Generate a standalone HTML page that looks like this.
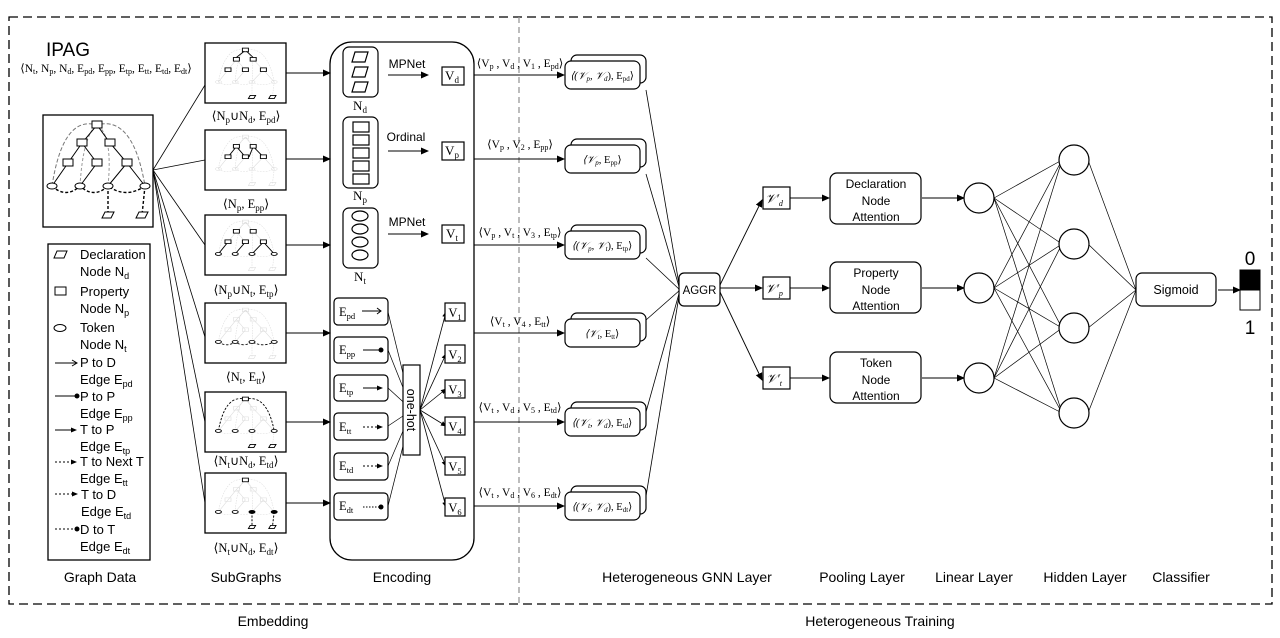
<!DOCTYPE html>
<html><head><meta charset="utf-8"><style>
html,body{margin:0;padding:0;background:#fff}
svg{display:block}
text{font-family:"Liberation Serif",serif;fill:#000}
.s{font-family:"Liberation Sans","DejaVu Sans",sans-serif}
</style></head><body>
<svg width="1280" height="638" viewBox="0 0 1280 638" xmlns="http://www.w3.org/2000/svg">
<defs>
<marker id="a" markerWidth="8" markerHeight="8" refX="7" refY="4" orient="auto" markerUnits="userSpaceOnUse"><path d="M0,0.5 L8,4 L0,7.5z" fill="#000"/></marker>
<marker id="as" markerWidth="6" markerHeight="6" refX="5" refY="3" orient="auto" markerUnits="userSpaceOnUse"><path d="M0,0.5 L6,3 L0,5.5z" fill="#000"/></marker>
<g id="faint" stroke="#ddd" fill="none" stroke-width="1">
<path d="M9,71 Q20,0 54,10 Q90,0 102,71" stroke-dasharray="3,2"/>
<path d="M37,71 Q40,20 54,10 M65,71 Q70,20 54,10" stroke-dasharray="3,2"/>
<path d="M54,10 L39,28 L25,48 L9,71 M39,28 L54,48 L37,71 M54,10 L67,28 L84,48 L65,71 M84,48 L102,71"/>
<path d="M9,71 Q23,82 37,71 Q51,82 65,71 Q83,82 102,71" stroke-dasharray="3,2"/>
<path d="M65,71 L65,100 M102,71 L99,100" stroke-dasharray="3,2"/>
<rect x="49" y="6" width="10" height="7"/><rect x="34" y="24" width="10" height="7"/><rect x="62" y="24" width="10" height="7"/>
<rect x="20" y="44" width="10" height="7"/><rect x="49" y="44" width="10" height="7"/><rect x="79" y="44" width="10" height="7"/>
<ellipse cx="9" cy="71" rx="5" ry="3"/><ellipse cx="37" cy="71" rx="5" ry="3"/><ellipse cx="65" cy="71" rx="5" ry="3"/><ellipse cx="102" cy="71" rx="5" ry="3"/>
<path d="M62,97 h9 l-3,6 h-9z M96,97 h9 l-3,6 h-9z"/>
</g>
</defs>

<rect x="9" y="17" width="1263" height="587" fill="none" stroke="#000" stroke-width="1.3" stroke-dasharray="9,5"/>
<line x1="519" y1="17" x2="519" y2="604" stroke="#999" stroke-width="1.3" stroke-dasharray="6,4"/>
<text x="273" y="626" class="s" font-size="14" text-anchor="middle">Embedding</text>
<text x="880" y="626" class="s" font-size="14" text-anchor="middle">Heterogeneous Training</text>

<text x="68" y="56" class="s" font-size="19" text-anchor="middle">IPAG</text>
<text x="106" y="72" font-size="11.5" text-anchor="middle">⟨N<tspan font-size="8" dy="2">t</tspan><tspan dy="-2">, N</tspan><tspan font-size="8" dy="2">p</tspan><tspan dy="-2">, N</tspan><tspan font-size="8" dy="2">d</tspan><tspan dy="-2">, E</tspan><tspan font-size="8" dy="2">pd</tspan><tspan dy="-2">, E</tspan><tspan font-size="8" dy="2">pp</tspan><tspan dy="-2">, E</tspan><tspan font-size="8" dy="2">tp</tspan><tspan dy="-2">, E</tspan><tspan font-size="8" dy="2">tt</tspan><tspan dy="-2">, E</tspan><tspan font-size="8" dy="2">td</tspan><tspan dy="-2">, E</tspan><tspan font-size="8" dy="2">dt</tspan><tspan dy="-2">⟩</tspan></text>
<rect x="43" y="115" width="110" height="112" fill="#fff" stroke="#000" stroke-width="1.3"/>
<g transform="translate(43,115)" fill="#fff" stroke="#000" stroke-width="1">
<path d="M9,71 Q20,0 54,10 Q90,0 102,71" fill="none" stroke="#777" stroke-dasharray="4,2"/>
<path d="M37,71 Q40,20 54,10 M65,71 Q70,20 54,10" fill="none" stroke="#999" stroke-dasharray="3,2"/>
<path d="M54,10 L39,28 L25,48 L9,71 M39,28 L54,48 L37,71 M54,10 L67,28 L84,48 L65,71 M84,48 L102,71" fill="none"/>
<path d="M9,71 Q23,84 37,71 Q51,84 65,71 Q83,84 102,71" fill="none" stroke-dasharray="3,2" stroke-width="1.4"/>
<path d="M65,71 L65,100 M102,71 L99,100" fill="none" stroke-dasharray="3,2" stroke-width="1.4"/>
<rect x="49" y="6" width="10" height="7"/><rect x="34" y="24" width="10" height="7"/><rect x="62" y="24" width="10" height="7"/>
<rect x="20" y="44" width="10" height="7"/><rect x="49" y="44" width="10" height="7"/><rect x="79" y="44" width="10" height="7"/>
<ellipse cx="9" cy="71" rx="5" ry="3"/><ellipse cx="37" cy="71" rx="5" ry="3"/><ellipse cx="65" cy="71" rx="5" ry="3"/><ellipse cx="102" cy="71" rx="5" ry="3"/>
<path d="M62,97 h9 l-3,6 h-9z M96,97 h9 l-3,6 h-9z"/>
</g>

<rect x="48" y="244" width="102" height="316" fill="none" stroke="#000" stroke-width="1.3"/>
<g class="s" font-size="13">
<path d="M57,251 h10 l-3,7 h-10z" fill="none" stroke="#000"/>
<text x="80" y="259" class="s">Declaration</text>
<text x="80" y="276" class="s">Node N<tspan font-size="9" dy="3">d</tspan></text>
<rect x="55" y="287" width="11" height="8" fill="none" stroke="#000"/>
<text x="80" y="296" class="s">Property</text>
<text x="80" y="313" class="s">Node N<tspan font-size="9" dy="3">p</tspan></text>
<ellipse cx="60" cy="328" rx="6" ry="3.5" fill="none" stroke="#000"/>
<text x="80" y="332" class="s">Token</text>
<text x="80" y="349" class="s">Node N<tspan font-size="9" dy="3">t</tspan></text>
<path d="M55,363 h22 M72,360 l5,3 l-5,3" fill="none" stroke="#000"/>
<text x="80" y="367" class="s">P to D</text>
<text x="80" y="384" class="s">Edge E<tspan font-size="9" dy="3">pd</tspan></text>
<line x1="55" y1="396" x2="76" y2="396" stroke="#000"/><circle cx="77" cy="396" r="2.5"/>
<text x="80" y="401" class="s">P to P</text>
<text x="80" y="418" class="s">Edge E<tspan font-size="9" dy="3">pp</tspan></text>
<line x1="55" y1="430" x2="76" y2="430" stroke="#000" marker-end="url(#as)"/>
<text x="80" y="434" class="s">T to P</text>
<text x="80" y="451" class="s">Edge E<tspan font-size="9" dy="3">tp</tspan></text>
<line x1="55" y1="462" x2="76" y2="462" stroke="#000" stroke-dasharray="2,2" marker-end="url(#as)"/>
<text x="80" y="466" class="s">T to Next T</text>
<text x="80" y="483" class="s">Edge E<tspan font-size="9" dy="3">tt</tspan></text>
<line x1="55" y1="494" x2="77" y2="494" stroke="#000" stroke-dasharray="2,2" marker-end="url(#as)"/>
<text x="81" y="499" class="s">T to D</text>
<text x="81" y="516" class="s">Edge E<tspan font-size="9" dy="3">td</tspan></text>
<line x1="55" y1="529" x2="76" y2="529" stroke="#000" stroke-dasharray="2,2"/><circle cx="77" cy="529" r="2.5"/>
<text x="80" y="534" class="s">D to T</text>
<text x="80" y="551" class="s">Edge E<tspan font-size="9" dy="3">dt</tspan></text>
</g>
<text x="100" y="582" class="s" font-size="14" text-anchor="middle">Graph Data</text>

<g stroke="#000" stroke-width="0.8">
<line x1="153" y1="170" x2="205" y2="85"/>
<line x1="153" y1="170" x2="205" y2="160"/>
<line x1="153" y1="170" x2="205" y2="245"/>
<line x1="153" y1="170" x2="205" y2="337"/>
<line x1="153" y1="170" x2="205" y2="422"/>
<line x1="153" y1="170" x2="205" y2="503"/>
</g>

<g stroke="#000" stroke-width="1.3" fill="#fff">
<rect x="205" y="43" width="81" height="60"/>
<rect x="205" y="130" width="81" height="60"/>
<rect x="205" y="215" width="81" height="60"/>
<rect x="205" y="303" width="81" height="60"/>
<rect x="205" y="392" width="81" height="60"/>
<rect x="205" y="473" width="81" height="60"/>
</g>
<g transform="translate(213,45) scale(0.6,0.52)"><use href="#faint"/>
 <g fill="#fff" stroke="#000" stroke-width="1.6"><rect x="49" y="6" width="10" height="7"/><rect x="34" y="24" width="10" height="7"/><rect x="62" y="24" width="10" height="7"/><rect x="20" y="44" width="10" height="7"/><rect x="49" y="44" width="10" height="7"/><rect x="79" y="44" width="10" height="7"/><path d="M62,97 h9 l-3,6 h-9z M96,97 h9 l-3,6 h-9z"/><path d="M39,24 L52,12 M67,24 L56,12"/></g></g>
<g transform="translate(213,132) scale(0.6,0.52)"><use href="#faint"/>
 <g fill="#fff" stroke="#000" stroke-width="1.6"><path d="M39,28 L25,48 M39,28 L54,48 M67,28 L84,48 M67,28 L60,48" fill="none"/><rect x="34" y="24" width="10" height="7"/><rect x="62" y="24" width="10" height="7"/><rect x="20" y="44" width="10" height="7"/><rect x="49" y="44" width="10" height="7"/><rect x="79" y="44" width="10" height="7"/></g></g>
<g transform="translate(213,217) scale(0.6,0.52)"><use href="#faint"/>
 <g fill="#fff" stroke="#000" stroke-width="1.6"><path d="M9,71 L25,48 M37,71 L54,48 M65,71 L84,48 M102,71 L84,48" fill="none"/><rect x="34" y="24" width="10" height="7"/><rect x="62" y="24" width="10" height="7"/><rect x="20" y="44" width="10" height="7"/><rect x="49" y="44" width="10" height="7"/><rect x="79" y="44" width="10" height="7"/><ellipse cx="9" cy="71" rx="5" ry="3"/><ellipse cx="37" cy="71" rx="5" ry="3"/><ellipse cx="65" cy="71" rx="5" ry="3"/><ellipse cx="102" cy="71" rx="5" ry="3"/></g></g>
<g transform="translate(213,305) scale(0.6,0.52)"><use href="#faint"/>
 <g fill="#fff" stroke="#000" stroke-width="1.6"><path d="M9,71 Q23,82 37,71 Q51,82 65,71 Q83,82 102,71" fill="none" stroke-dasharray="4,3"/><ellipse cx="9" cy="71" rx="5" ry="3"/><ellipse cx="37" cy="71" rx="5" ry="3"/><ellipse cx="65" cy="71" rx="5" ry="3"/><ellipse cx="102" cy="71" rx="5" ry="3"/></g></g>
<g transform="translate(213,394) scale(0.6,0.52)"><use href="#faint"/>
 <g fill="#fff" stroke="#000" stroke-width="1.6"><path d="M9,71 Q20,0 54,10 Q90,0 102,71" fill="none" stroke-dasharray="4,3"/><rect x="49" y="6" width="10" height="7"/><ellipse cx="9" cy="71" rx="5" ry="3"/><ellipse cx="37" cy="71" rx="5" ry="3"/><ellipse cx="65" cy="71" rx="5" ry="3"/><ellipse cx="102" cy="71" rx="5" ry="3"/><path d="M62,97 h9 l-3,6 h-9z M96,97 h9 l-3,6 h-9z"/></g></g>
<g transform="translate(213,475) scale(0.6,0.52)"><use href="#faint"/>
 <g fill="#fff" stroke="#000" stroke-width="1.6"><path d="M65,71 L65,100 M102,71 L99,100" fill="none" stroke-dasharray="4,3"/><rect x="49" y="6" width="10" height="7"/><ellipse cx="9" cy="71" rx="5" ry="3"/><ellipse cx="37" cy="71" rx="5" ry="3"/><ellipse cx="65" cy="71" rx="5" ry="3" fill="#000"/><ellipse cx="102" cy="71" rx="5" ry="3" fill="#000"/><path d="M62,97 h9 l-3,6 h-9z M96,97 h9 l-3,6 h-9z"/></g></g>

<g font-size="12.5" text-anchor="middle">
<text x="246" y="120">⟨N<tspan font-size="9" dy="3">p</tspan><tspan dy="-3">∪N</tspan><tspan font-size="9" dy="3">d</tspan><tspan dy="-3">, E</tspan><tspan font-size="9" dy="3">pd</tspan><tspan dy="-3">⟩</tspan></text>
<text x="246" y="208">⟨N<tspan font-size="9" dy="3">p</tspan><tspan dy="-3">, E</tspan><tspan font-size="9" dy="3">pp</tspan><tspan dy="-3">⟩</tspan></text>
<text x="246" y="294">⟨N<tspan font-size="9" dy="3">p</tspan><tspan dy="-3">∪N</tspan><tspan font-size="9" dy="3">t</tspan><tspan dy="-3">, E</tspan><tspan font-size="9" dy="3">tp</tspan><tspan dy="-3">⟩</tspan></text>
<text x="246" y="381">⟨N<tspan font-size="9" dy="3">t</tspan><tspan dy="-3">, E</tspan><tspan font-size="9" dy="3">tt</tspan><tspan dy="-3">⟩</tspan></text>
<text x="246" y="465">⟨N<tspan font-size="9" dy="3">t</tspan><tspan dy="-3">∪N</tspan><tspan font-size="9" dy="3">d</tspan><tspan dy="-3">, E</tspan><tspan font-size="9" dy="3">td</tspan><tspan dy="-3">⟩</tspan></text>
<text x="246" y="552">⟨N<tspan font-size="9" dy="3">t</tspan><tspan dy="-3">∪N</tspan><tspan font-size="9" dy="3">d</tspan><tspan dy="-3">, E</tspan><tspan font-size="9" dy="3">dt</tspan><tspan dy="-3">⟩</tspan></text>
</g>
<text x="246" y="582" class="s" font-size="14" text-anchor="middle">SubGraphs</text>

<g stroke="#000" stroke-width="1" marker-end="url(#a)">
<line x1="286" y1="73" x2="330" y2="73"/>
<line x1="286" y1="159" x2="330" y2="159"/>
<line x1="286" y1="245" x2="330" y2="245"/>
<line x1="286" y1="333" x2="330" y2="333"/>
<line x1="286" y1="422" x2="330" y2="422"/>
<line x1="286" y1="503" x2="330" y2="503"/>
</g>

<rect x="330" y="42" width="144" height="518" rx="22" fill="none" stroke="#000" stroke-width="1.3"/>
<g fill="none" stroke="#000" stroke-width="1.2">
<rect x="343" y="47" width="35" height="50" rx="6"/>
<path d="M355,52 h13 l-3,10 h-13z M355,67 h13 l-3,10 h-13z M355,82 h13 l-3,10 h-13z"/>
<rect x="343" y="117" width="35" height="71" rx="6"/>
<rect x="353" y="122" width="16" height="10"/><rect x="353" y="135" width="16" height="10"/><rect x="353" y="148" width="16" height="10"/><rect x="353" y="161" width="16" height="10"/><rect x="353" y="174" width="16" height="10"/>
<rect x="343" y="208" width="35" height="60" rx="6"/>
<ellipse cx="360" cy="216" rx="8" ry="5"/><ellipse cx="360" cy="229" rx="8" ry="5"/><ellipse cx="360" cy="242" rx="8" ry="5"/><ellipse cx="360" cy="255" rx="8" ry="5"/>
</g>
<g font-size="13" text-anchor="middle">
<text x="360" y="110">N<tspan font-size="9" dy="3">d</tspan></text>
<text x="360" y="200">N<tspan font-size="9" dy="3">p</tspan></text>
<text x="360" y="281">N<tspan font-size="9" dy="3">t</tspan></text>
</g>
<g class="s" font-size="12" text-anchor="middle">
<text x="407" y="68" class="s">MPNet</text>
<text x="406" y="141" class="s">Ordinal</text>
<text x="407" y="226" class="s">MPNet</text>
</g>
<g stroke="#000" marker-end="url(#a)">
<line x1="388" y1="75" x2="428" y2="75"/>
<line x1="388" y1="151" x2="428" y2="151"/>
<line x1="388" y1="234" x2="428" y2="234"/>
</g>
<g fill="#fff" stroke="#000" stroke-width="1.2">
<rect x="442" y="67" width="22" height="18"/><rect x="442" y="142" width="22" height="18"/><rect x="442" y="225" width="22" height="18"/>
</g>
<g font-size="13" text-anchor="middle">
<text x="452" y="80">V<tspan font-size="9" dy="3">d</tspan></text>
<text x="452" y="155">V<tspan font-size="9" dy="3">p</tspan></text>
<text x="452" y="238">V<tspan font-size="9" dy="3">t</tspan></text>
</g>

<g stroke="#000" stroke-width="0.7">
<line x1="388" y1="312" x2="412" y2="410"/><line x1="388" y1="350" x2="412" y2="410"/><line x1="388" y1="388" x2="412" y2="410"/>
<line x1="388" y1="426" x2="412" y2="410"/><line x1="388" y1="466" x2="412" y2="410"/><line x1="388" y1="506" x2="412" y2="410"/>
</g>
<g stroke="#000" stroke-width="0.8" marker-end="url(#as)">
<line x1="420" y1="410" x2="446" y2="312"/><line x1="420" y1="410" x2="446" y2="354"/><line x1="420" y1="410" x2="446" y2="389"/>
<line x1="420" y1="410" x2="446" y2="426"/><line x1="420" y1="410" x2="446" y2="466"/><line x1="420" y1="410" x2="446" y2="507"/>
</g>
<g fill="#fff" stroke="#000" stroke-width="1.2">
<rect x="334" y="298" width="54" height="27" rx="4"/>
<rect x="334" y="337" width="54" height="26" rx="4"/>
<rect x="334" y="375" width="54" height="26" rx="4"/>
<rect x="334" y="413" width="54" height="27" rx="4"/>
<rect x="334" y="453" width="54" height="27" rx="4"/>
<rect x="334" y="493" width="54" height="27" rx="4"/>
<rect x="403" y="365" width="17" height="90"/>
<rect x="445" y="303" width="20" height="18"/><rect x="445" y="345" width="20" height="18"/><rect x="445" y="380" width="20" height="18"/>
<rect x="445" y="417" width="20" height="18"/><rect x="445" y="457" width="20" height="18"/><rect x="445" y="498" width="20" height="18"/>
</g>
<text x="0" y="0" class="s" font-size="12.5" text-anchor="middle" transform="translate(407,410) rotate(90)">one-hot</text>
<g font-size="12.5">
<text x="339" y="316">E<tspan font-size="8.5" dy="3">pd</tspan></text>
<text x="339" y="354">E<tspan font-size="8.5" dy="3">pp</tspan></text>
<text x="339" y="392">E<tspan font-size="8.5" dy="3">tp</tspan></text>
<text x="339" y="431">E<tspan font-size="8.5" dy="3">tt</tspan></text>
<text x="339" y="470">E<tspan font-size="8.5" dy="3">td</tspan></text>
<text x="339" y="510">E<tspan font-size="8.5" dy="3">dt</tspan></text>
</g>
<g stroke="#000" fill="none">
<path d="M362,311 h19 M377,308 l4,3 l-4,3"/>
<line x1="363" y1="350" x2="380" y2="350"/>
<line x1="363" y1="388" x2="382" y2="388" marker-end="url(#as)"/>
<line x1="363" y1="427" x2="382" y2="427" stroke-dasharray="2,2" marker-end="url(#as)"/>
<line x1="363" y1="466" x2="382" y2="466" stroke-dasharray="2,2" marker-end="url(#as)"/>
<line x1="363" y1="507" x2="380" y2="507" stroke-dasharray="1.5,1.5"/>
</g>
<circle cx="381" cy="350" r="2.5"/><circle cx="381" cy="507" r="2.5"/>
<g font-size="12.5" text-anchor="middle">
<text x="455" y="317">V<tspan font-size="8.5" dy="3">1</tspan></text>
<text x="455" y="359">V<tspan font-size="8.5" dy="3">2</tspan></text>
<text x="455" y="394">V<tspan font-size="8.5" dy="3">3</tspan></text>
<text x="455" y="431">V<tspan font-size="8.5" dy="3">4</tspan></text>
<text x="455" y="471">V<tspan font-size="8.5" dy="3">5</tspan></text>
<text x="455" y="512">V<tspan font-size="8.5" dy="3">6</tspan></text>
</g>
<text x="402" y="582" class="s" font-size="14" text-anchor="middle">Encoding</text>

<g stroke="#000" stroke-width="1" marker-end="url(#a)">
<line x1="474" y1="75" x2="564" y2="75"/>
<line x1="474" y1="159" x2="564" y2="159"/>
<line x1="474" y1="245" x2="564" y2="245"/>
<line x1="474" y1="333" x2="564" y2="333"/>
<line x1="474" y1="422" x2="564" y2="422"/>
<line x1="474" y1="506" x2="564" y2="506"/>
</g>
<g font-size="11.5" text-anchor="middle">
<text x="520" y="67">⟨V<tspan font-size="8" dy="2">p</tspan><tspan dy="-2"> , V</tspan><tspan font-size="8" dy="2">d</tspan><tspan dy="-2"> , V</tspan><tspan font-size="8" dy="2">1</tspan><tspan dy="-2"> , E</tspan><tspan font-size="8" dy="2">pd</tspan><tspan dy="-2">⟩</tspan></text>
<text x="520" y="148">⟨V<tspan font-size="8" dy="2">p</tspan><tspan dy="-2"> , V</tspan><tspan font-size="8" dy="2">2</tspan><tspan dy="-2"> , E</tspan><tspan font-size="8" dy="2">pp</tspan><tspan dy="-2">⟩</tspan></text>
<text x="520" y="236">⟨V<tspan font-size="8" dy="2">p</tspan><tspan dy="-2"> , V</tspan><tspan font-size="8" dy="2">t</tspan><tspan dy="-2"> , V</tspan><tspan font-size="8" dy="2">3</tspan><tspan dy="-2"> , E</tspan><tspan font-size="8" dy="2">tp</tspan><tspan dy="-2">⟩</tspan></text>
<text x="520" y="325">⟨V<tspan font-size="8" dy="2">t</tspan><tspan dy="-2"> , V</tspan><tspan font-size="8" dy="2">4</tspan><tspan dy="-2"> , E</tspan><tspan font-size="8" dy="2">tt</tspan><tspan dy="-2">⟩</tspan></text>
<text x="520" y="411">⟨V<tspan font-size="8" dy="2">t</tspan><tspan dy="-2"> , V</tspan><tspan font-size="8" dy="2">d</tspan><tspan dy="-2"> , V</tspan><tspan font-size="8" dy="2">5</tspan><tspan dy="-2"> , E</tspan><tspan font-size="8" dy="2">td</tspan><tspan dy="-2">⟩</tspan></text>
<text x="520" y="496">⟨V<tspan font-size="8" dy="2">t</tspan><tspan dy="-2"> , V</tspan><tspan font-size="8" dy="2">d</tspan><tspan dy="-2"> , V</tspan><tspan font-size="8" dy="2">6</tspan><tspan dy="-2"> , E</tspan><tspan font-size="8" dy="2">dt</tspan><tspan dy="-2">⟩</tspan></text>
</g>

<g stroke="#000" stroke-width="0.8">
<line x1="646" y1="90" x2="680" y2="290"/>
<line x1="646" y1="174" x2="680" y2="290"/>
<line x1="646" y1="258" x2="680" y2="290"/>
<line x1="646" y1="320" x2="680" y2="290"/>
<line x1="646" y1="412" x2="680" y2="290"/>
<line x1="646" y1="496" x2="680" y2="290"/>
</g>
<g fill="#fff" stroke="#000" stroke-width="1.2">
<rect x="571" y="55" width="75" height="28" rx="6"/><rect x="565" y="61" width="75" height="28" rx="6"/>
<rect x="571" y="139" width="75" height="28" rx="6"/><rect x="565" y="145" width="75" height="28" rx="6"/>
<rect x="571" y="225" width="75" height="28" rx="6"/><rect x="565" y="231" width="75" height="28" rx="6"/>
<rect x="571" y="313" width="75" height="28" rx="6"/><rect x="565" y="319" width="75" height="28" rx="6"/>
<rect x="571" y="402" width="75" height="28" rx="6"/><rect x="565" y="408" width="75" height="28" rx="6"/>
<rect x="571" y="486" width="75" height="28" rx="6"/><rect x="565" y="492" width="75" height="28" rx="6"/>
</g>
<g font-size="10.5" text-anchor="middle">
<text x="602" y="79" font-style="italic">⟨(𝒱<tspan font-size="7" dy="2">p</tspan><tspan dy="-2">, 𝒱</tspan><tspan font-size="7" dy="2">d</tspan><tspan dy="-2" font-style="normal">), E</tspan><tspan font-size="7" dy="2" font-style="normal">pd</tspan><tspan dy="-2" font-style="normal">⟩</tspan></text>
<text x="602" y="163" font-style="italic">⟨𝒱<tspan font-size="7" dy="2">p</tspan><tspan dy="-2" font-style="normal">, E</tspan><tspan font-size="7" dy="2" font-style="normal">pp</tspan><tspan dy="-2" font-style="normal">⟩</tspan></text>
<text x="602" y="249" font-style="italic">⟨(𝒱<tspan font-size="7" dy="2">p</tspan><tspan dy="-2">, 𝒱</tspan><tspan font-size="7" dy="2">t</tspan><tspan dy="-2" font-style="normal">), E</tspan><tspan font-size="7" dy="2" font-style="normal">tp</tspan><tspan dy="-2" font-style="normal">⟩</tspan></text>
<text x="602" y="337" font-style="italic">⟨𝒱<tspan font-size="7" dy="2">t</tspan><tspan dy="-2" font-style="normal">, E</tspan><tspan font-size="7" dy="2" font-style="normal">tt</tspan><tspan dy="-2" font-style="normal">⟩</tspan></text>
<text x="602" y="426" font-style="italic">⟨(𝒱<tspan font-size="7" dy="2">t</tspan><tspan dy="-2">, 𝒱</tspan><tspan font-size="7" dy="2">d</tspan><tspan dy="-2" font-style="normal">), E</tspan><tspan font-size="7" dy="2" font-style="normal">td</tspan><tspan dy="-2" font-style="normal">⟩</tspan></text>
<text x="602" y="510" font-style="italic">⟨(𝒱<tspan font-size="7" dy="2">t</tspan><tspan dy="-2">, 𝒱</tspan><tspan font-size="7" dy="2">d</tspan><tspan dy="-2" font-style="normal">), E</tspan><tspan font-size="7" dy="2" font-style="normal">dt</tspan><tspan dy="-2" font-style="normal">⟩</tspan></text>
</g>

<rect x="679" y="273" width="41" height="33" rx="5" fill="#fff" stroke="#000" stroke-width="1.2"/>
<text x="699.5" y="294" class="s" font-size="11.5" text-anchor="middle">AGGR</text>
<g stroke="#000" stroke-width="0.9" marker-end="url(#a)">
<line x1="720" y1="285" x2="762" y2="200"/>
<line x1="720" y1="288" x2="762" y2="288"/>
<line x1="720" y1="292" x2="762" y2="380"/>
<line x1="790" y1="198" x2="829" y2="198"/>
<line x1="790" y1="288" x2="829" y2="288"/>
<line x1="790" y1="378" x2="829" y2="378"/>
<line x1="922" y1="198" x2="964" y2="198"/>
<line x1="922" y1="288" x2="964" y2="288"/>
<line x1="922" y1="378" x2="964" y2="378"/>
<line x1="1218" y1="290" x2="1240" y2="290"/>
</g>
<g fill="#fff" stroke="#000" stroke-width="1.2">
<rect x="763" y="187" width="27" height="22"/><rect x="763" y="277" width="27" height="22"/><rect x="763" y="367" width="27" height="22"/>
</g>
<g font-size="13" font-style="italic" text-anchor="middle">
<text x="774" y="203">𝒱′<tspan font-size="8" dy="3">d</tspan></text>
<text x="774" y="293">𝒱′<tspan font-size="8" dy="3">p</tspan></text>
<text x="774" y="383">𝒱′<tspan font-size="8" dy="3">t</tspan></text>
</g>
<g fill="#fff" stroke="#000" stroke-width="1.2">
<rect x="830" y="173" width="91" height="51" rx="7"/>
<rect x="830" y="262" width="91" height="51" rx="7"/>
<rect x="830" y="352" width="91" height="51" rx="7"/>
</g>
<g class="s" font-size="12" text-anchor="middle">
<text x="876" y="188" class="s">Declaration</text><text x="876" y="205" class="s">Node</text><text x="876" y="221" class="s">Attention</text>
<text x="876" y="277" class="s">Property</text><text x="876" y="294" class="s">Node</text><text x="876" y="310" class="s">Attention</text>
<text x="876" y="367" class="s">Token</text><text x="876" y="384" class="s">Node</text><text x="876" y="400" class="s">Attention</text>
</g>

<g stroke="#000" stroke-width="0.7">
<line x1="994" y1="198" x2="1062" y2="160"/><line x1="994" y1="198" x2="1062" y2="244"/><line x1="994" y1="198" x2="1062" y2="328"/><line x1="994" y1="198" x2="1062" y2="413"/>
<line x1="994" y1="288" x2="1062" y2="160"/><line x1="994" y1="288" x2="1062" y2="244"/><line x1="994" y1="288" x2="1062" y2="328"/><line x1="994" y1="288" x2="1062" y2="413"/>
<line x1="994" y1="378" x2="1062" y2="160"/><line x1="994" y1="378" x2="1062" y2="244"/><line x1="994" y1="378" x2="1062" y2="328"/><line x1="994" y1="378" x2="1062" y2="413"/>
<line x1="1088" y1="160" x2="1136" y2="290"/><line x1="1088" y1="244" x2="1136" y2="290"/><line x1="1088" y1="328" x2="1136" y2="290"/><line x1="1088" y1="413" x2="1136" y2="290"/>
</g>
<g fill="#fff" stroke="#000" stroke-width="1.2">
<ellipse cx="979" cy="198" rx="15" ry="15"/><ellipse cx="979" cy="288" rx="15" ry="15"/><ellipse cx="979" cy="378" rx="15" ry="15"/>
<ellipse cx="1074" cy="160" rx="15" ry="15"/><ellipse cx="1074" cy="244" rx="15" ry="15"/><ellipse cx="1074" cy="328" rx="15" ry="15"/><ellipse cx="1074" cy="413" rx="15" ry="15"/>
<rect x="1136" y="273" width="80" height="33" rx="6"/>
</g>
<text x="1176" y="294" class="s" font-size="12.5" text-anchor="middle">Sigmoid</text>
<rect x="1240" y="270" width="20" height="20" fill="#000" stroke="#000"/>
<rect x="1240" y="290" width="20" height="20" fill="#fff" stroke="#000"/>
<text x="1250" y="265" class="s" font-size="19" text-anchor="middle">0</text>
<text x="1250" y="334" class="s" font-size="19" text-anchor="middle">1</text>

<g class="s" font-size="14" text-anchor="middle">
<text x="687" y="582" class="s">Heterogeneous GNN Layer</text>
<text x="862" y="582" class="s">Pooling Layer</text>
<text x="974" y="582" class="s">Linear Layer</text>
<text x="1085" y="582" class="s">Hidden Layer</text>
<text x="1181" y="582" class="s">Classifier</text>
</g>
</svg>
</body></html>
